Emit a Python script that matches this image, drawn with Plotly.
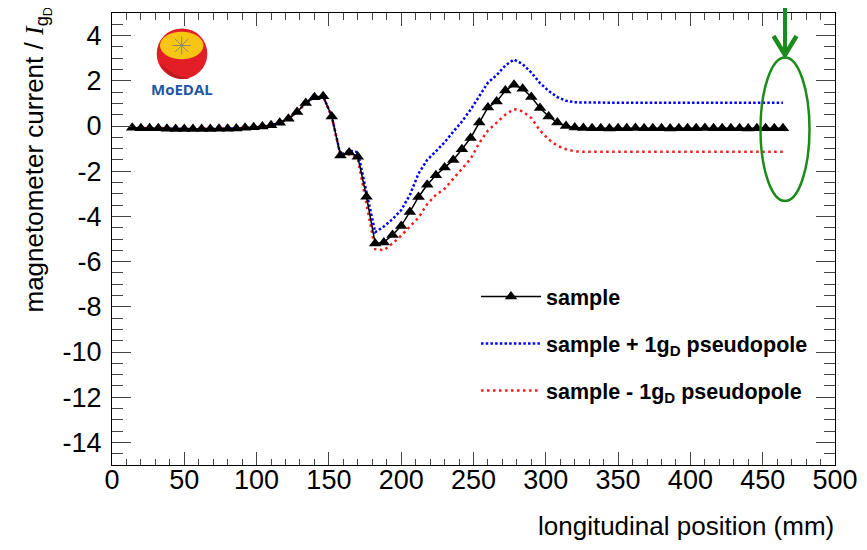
import plotly.graph_objects as go

# ---------------- data ----------------
position_mm = [14, 20, 26, 32, 38, 44, 50, 56, 62, 68, 74, 80, 86,
               92, 98, 104, 110, 116, 122, 128, 134, 140, 146, 152, 158, 164, 170,
               176, 182, 188, 194, 200, 206, 212, 218, 224, 230, 236, 242, 248, 254,
               260, 266, 272, 278, 284, 290, 296, 302, 308, 314, 320,
               326, 332, 338, 344, 350, 356, 362, 368, 374, 380, 386, 392,
               398, 404, 410, 416, 422, 428, 434, 440, 446, 452, 458, 464]

sample = [-0.08, -0.10, -0.10, -0.10, -0.12, -0.13, -0.13, -0.13, -0.13, -0.13, -0.12, -0.12, -0.11,
          -0.08, -0.06, -0.02, 0.03, 0.14, 0.32, 0.62, 1.02, 1.27, 1.32, 0.42, -1.30, -1.17, -1.36,
          -3.13, -5.20, -5.15, -4.82, -4.42, -3.80, -3.14, -2.60, -2.18, -1.84, -1.50, -1.03, -0.53, 0.15,
          0.82, 1.08, 1.57, 1.82, 1.65, 1.28, 0.80, 0.42, 0.15, 0.00, -0.07,
          -0.09, -0.10, -0.10, -0.11, -0.10, -0.10, -0.09, -0.10, -0.10, -0.10, -0.11, -0.10,
          -0.10, -0.10, -0.09, -0.10, -0.10, -0.10, -0.10, -0.11, -0.10, -0.10, -0.10, -0.10]

sample_plus = [-0.08, -0.10, -0.10, -0.10, -0.12, -0.13, -0.13, -0.13, -0.13, -0.13, -0.12, -0.12, -0.11,
               -0.08, -0.06, -0.02, 0.03, 0.14, 0.32, 0.62, 1.02, 1.27, 1.32, 0.42, -1.28, -1.10, -1.15,
               -2.90, -4.70, -4.45, -4.12, -3.72, -3.05, -2.10, -1.50, -1.12, -0.72, -0.25, 0.20, 0.72, 1.30,
               1.92, 2.25, 2.68, 2.94, 2.74, 2.36, 1.90, 1.55, 1.28, 1.12, 1.05,
               1.04, 1.03, 1.03, 1.02, 1.03, 1.03, 1.03, 1.02, 1.03, 1.03, 1.04, 1.03,
               1.03, 1.03, 1.02, 1.03, 1.03, 1.03, 1.03, 1.03, 1.02, 1.03, 1.03, 1.03]

sample_minus = [-0.08, -0.10, -0.10, -0.10, -0.12, -0.13, -0.13, -0.13, -0.13, -0.13, -0.12, -0.12, -0.11,
                -0.08, -0.06, -0.02, 0.03, 0.14, 0.32, 0.62, 1.02, 1.27, 1.32, 0.42, -1.32, -1.25, -1.45,
                -3.40, -5.45, -5.50, -5.20, -4.85, -4.45, -4.05, -3.45, -3.05, -2.78, -2.35, -1.90, -1.45, -0.75,
                -0.20, 0.15, 0.50, 0.75, 0.65, 0.35, -0.20, -0.60, -0.88, -1.03, -1.12,
                -1.14, -1.14, -1.14, -1.14, -1.14, -1.14, -1.14, -1.14, -1.14, -1.14, -1.14, -1.14,
                -1.14, -1.14, -1.14, -1.14, -1.14, -1.14, -1.14, -1.14, -1.14, -1.14, -1.14, -1.14]

x_ticks = [0, 50, 100, 150, 200, 250, 300, 350, 400, 450, 500]
x_tick_labels = ["0", "50", "100", "150", "200", "250", "300", "350", "400", "450", "500"]
y_ticks = [4, 2, 0, -2, -4, -6, -8, -10, -12, -14]
y_tick_labels = ["4", "2", "0", "-2", "-4", "-6", "-8", "-10", "-12", "-14"]

# ---------------- layout geometry ----------------
# the page body has an 8px margin, so the figure is made 8px smaller
OFF = 8
W, H = 867 - OFF, 550 - OFF
L, R, T, B = 112, 835, 13, 465   # plot frame in window pixels


def px(x):
    return (x - L) / (R - L)


def py(y):
    return (B - y) / (B - T)


fig = go.Figure()

fig.add_trace(go.Scatter(
    x=position_mm, y=sample_plus, mode="lines",
    name="<b>sample + 1g<sub>D</sub> pseudopole</b>",
    line=dict(color="#0000ff", width=2.5, dash="2.5px,2.2px"),
    legendgroup="b", legendrank=2))
fig.add_trace(go.Scatter(
    x=position_mm, y=sample_minus, mode="lines",
    name="<b>sample - 1g<sub>D</sub> pseudopole</b>",
    line=dict(color="#ff1a1a", width=2.5, dash="2.5px,3.5px"),
    legendgroup="c", legendrank=3))
fig.add_trace(go.Scatter(
    x=position_mm, y=sample, mode="lines+markers",
    name="<b>sample</b>",
    line=dict(color="black", width=1.5),
    marker=dict(symbol="triangle-up", size=11, color="black"),
    legendgroup="a", legendrank=1))

axis_common = dict(
    showline=True, linecolor="black", linewidth=1, mirror="ticks",
    ticks="inside", tickcolor="#444", showgrid=False, zeroline=False,
    tickfont=dict(family="Liberation Sans, Arial, sans-serif", size=27, color="black"),
)

fig.update_xaxes(range=[0, 500], tickmode="array", tickvals=x_ticks, ticktext=x_tick_labels,
                 ticklen=13, tickwidth=1, ticklabelstandoff=-9,
                 minor=dict(dtick=10, tick0=0, ticklen=6.5, ticks="inside", tickcolor="#444"),
                 **axis_common)
fig.update_yaxes(range=[-15, 5], tickmode="array", tickvals=y_ticks, ticktext=y_tick_labels,
                 ticklen=19, tickwidth=1, ticklabelstandoff=4,
                 minor=dict(dtick=0.5, tick0=0, ticklen=11, ticks="inside", tickcolor="#444"),
                 **axis_common)

shapes = []
# MoEDAL logo
shapes.append(dict(type="circle", xref="paper", yref="paper",
                   x0=px(156.7), x1=px(207.3), y0=py(79), y1=py(28.4),
                   fillcolor="#e31e26", line=dict(width=0)))
shapes.append(dict(type="path", xref="paper", yref="paper",
                   path=f"M{px(160)},{py(62)} Q{px(168)},{py(82)} {px(190)},{py(78.5)} "
                        f"Q{px(170)},{py(76)} {px(160)},{py(62)} Z",
                   fillcolor="#b71c24", line=dict(width=0)))
shapes.append(dict(type="circle", xref="paper", yref="paper",
                   x0=px(160), x1=px(203.4), y0=py(59.3), y1=py(31.7),
                   fillcolor="#f8c514", line=dict(width=0)))
cx, cy = 181.7, 45.5
for dx, dy in [(9, 0), (0, 9), (6.5, 6.5), (6.5, -6.5)]:
    shapes.append(dict(type="line", xref="paper", yref="paper",
                       x0=px(cx - dx), x1=px(cx + dx), y0=py(cy - dy), y1=py(cy + dy),
                       line=dict(color="#8a8a70", width=1)))
# green arrow and ellipse
green = "#1b8c1b"
shapes.append(dict(type="line", xref="paper", yref="paper",
                   x0=px(785), x1=px(785), y0=py(0), y1=py(52),
                   line=dict(color=green, width=4)))
shapes.append(dict(type="path", xref="paper", yref="paper",
                   path=f"M{px(773.5)},{py(36)} L{px(785)},{py(55)} L{px(796.5)},{py(36)}",
                   line=dict(color=green, width=4.5)))
shapes.append(dict(type="circle", xref="paper", yref="paper",
                   x0=px(760.5), x1=px(809.5), y0=py(201), y1=py(57.5),
                   line=dict(color=green, width=2.5)))

annotations = [
    dict(text="<b>MoEDAL</b>", xref="paper", yref="paper", x=px(182), y=py(89.5),
         showarrow=False, xanchor="center", yanchor="middle",
         font=dict(family="Open Sans, Liberation Sans, sans-serif", size=15, color="#2356a3")),
    dict(text="longitudinal position (mm)", xref="paper", yref="paper",
         x=px(836), y=py(526), showarrow=False, xanchor="right", yanchor="middle",
         font=dict(family="Liberation Sans, Arial, sans-serif", size=26, color="black")),
    dict(text="magnetometer current / <span style=\"font-family:'Liberation Serif'\"><i>I</i></span>"
              "<sub>g<sub>D</sub></sub>",
         xref="paper", yref="paper", x=px(36), y=py(6), textangle=-90,
         showarrow=False, xanchor="center", yanchor="top",
         font=dict(family="Liberation Sans, Arial, sans-serif", size=26, color="black")),
]

fig.update_layout(
    width=W, height=H,
    margin=dict(l=L - OFF, r=W - (R - OFF), t=T - OFF, b=H - (B - OFF)),
    paper_bgcolor="white", plot_bgcolor="white",
    shapes=shapes, annotations=annotations,
    showlegend=True,
    legend=dict(x=px(476), y=py(276), xanchor="left", yanchor="top",
                bgcolor="rgba(0,0,0,0)", borderwidth=0,
                tracegroupgap=16, itemwidth=60,
                font=dict(family="Liberation Sans, Arial, sans-serif", size=21.5, color="black")),
)

fig.write_html("out.html")
